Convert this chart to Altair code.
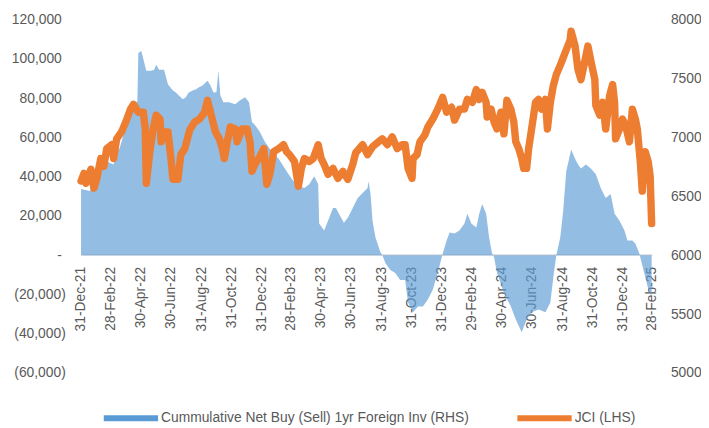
import altair as alt
import pandas as pd

BAR_NAME = "Cummulative Net Buy (Sell) 1yr Foreign Inv (RHS)"
LINE_NAME = "JCI (LHS)"

bar_dates = [
    "2021-12-31", "2022-01-18", "2022-02-01", "2022-02-11", "2022-02-21", "2022-03-07",
    "2022-03-13", "2022-03-19", "2022-03-27", "2022-04-02", "2022-04-08", "2022-04-16",
    "2022-04-22", "2022-04-24", "2022-04-26", "2022-05-02", "2022-05-08", "2022-05-12",
    "2022-05-22", "2022-05-28", "2022-06-01", "2022-06-07", "2022-06-17", "2022-06-25",
    "2022-07-05", "2022-07-11", "2022-07-17", "2022-07-25", "2022-07-31", "2022-08-06",
    "2022-08-14", "2022-08-20", "2022-08-26", "2022-09-03", "2022-09-13", "2022-09-19",
    "2022-09-25", "2022-10-01", "2022-10-05", "2022-10-09", "2022-10-15", "2022-10-27",
    "2022-11-08", "2022-11-18", "2022-11-28", "2022-12-06", "2022-12-12", "2022-12-18",
    "2022-12-28", "2023-01-07", "2023-01-21", "2023-02-04", "2023-02-14", "2023-02-24",
    "2023-03-06", "2023-03-16", "2023-03-28", "2023-04-07", "2023-04-17", "2023-04-25",
    "2023-04-27", "2023-05-07", "2023-05-15", "2023-05-25", "2023-05-31", "2023-06-06",
    "2023-06-16", "2023-06-24", "2023-07-04", "2023-07-14", "2023-07-24", "2023-08-03",
    "2023-08-05", "2023-08-09", "2023-08-13", "2023-08-19", "2023-08-29", "2023-09-02",
    "2023-09-08", "2023-09-18", "2023-09-28", "2023-10-08", "2023-10-18", "2023-10-24",
    "2023-11-03", "2023-11-13", "2023-11-23", "2023-12-03", "2023-12-13", "2023-12-23",
    "2023-12-31", "2024-01-10", "2024-01-16", "2024-01-26", "2024-02-05", "2024-02-15",
    "2024-02-21", "2024-02-29", "2024-03-10", "2024-03-16", "2024-03-22", "2024-03-30",
    "2024-04-05", "2024-04-11", "2024-04-15", "2024-04-21", "2024-05-05", "2024-05-19",
    "2024-05-29", "2024-06-10", "2024-06-20", "2024-06-30", "2024-07-14", "2024-07-28",
    "2024-08-07", "2024-08-13", "2024-08-19", "2024-08-27", "2024-09-02", "2024-09-08",
    "2024-09-16", "2024-09-18", "2024-09-26", "2024-10-02", "2024-10-08", "2024-10-18",
    "2024-10-28", "2024-11-07", "2024-11-17", "2024-11-27", "2024-12-07", "2024-12-15",
    "2024-12-25", "2025-01-04", "2025-01-10", "2025-01-20", "2025-01-26", "2025-02-03",
    "2025-02-13", "2025-02-23", "2025-02-28",
]
bar_values = [
    33700, 32700, 41200, 44200, 47700, 46200,
    52800, 54300, 61300, 64300, 71400, 74400,
    77900, 78400, 103000, 104000, 98000, 94000,
    94000, 94500, 97000, 94500, 94500, 86900,
    83900, 82900, 81400, 79400, 80400, 82900,
    83900, 84400, 85400, 86400, 88900, 86400,
    82900, 83000, 94000, 81400, 77900, 77900,
    76900, 78900, 80400, 77900, 67800, 66300,
    62800, 57800, 52800, 49200, 45200, 41200,
    37700, 35200, 34200, 36200, 40200, 36200,
    16100, 12600, 17600, 24100, 24100, 21100,
    16600, 19100, 24100, 29100, 31700, 34200,
    37700, 31200, 17600, 9000, 1500, 0,
    -4000, -7500, -9000, -12600, -12600, -24100,
    -29100, -26100, -26100, -22600, -17600, -9000,
    -1000, 7500, 11600, 11100, 12600, 16100,
    21100, 16100, 14100, 21100, 26100, 21100,
    9000, 1000, -1000, -9000, -19100, -26100,
    -32700, -39200, -32700, -29100, -27600, -29100,
    -24100, -11100, 0, 9000, 22600, 42700,
    51300, 53800, 49200, 46200, 44200, 46200,
    44200, 41200, 34200, 29100, 31200, 21100,
    17600, 12600, 7500, 7500, 6000, 1000,
    -9000, -19100, -20100,
]

line_dates = [
    "2021-12-31", "2022-01-06", "2022-01-10", "2022-01-20", "2022-01-26", "2022-02-01",
    "2022-02-09", "2022-02-15", "2022-02-21", "2022-03-03", "2022-03-07", "2022-03-13",
    "2022-03-23", "2022-04-02", "2022-04-10", "2022-04-16", "2022-04-26", "2022-05-06",
    "2022-05-10", "2022-05-12", "2022-05-20", "2022-05-26", "2022-06-01", "2022-06-09",
    "2022-06-11", "2022-06-19", "2022-06-25", "2022-07-01", "2022-07-05", "2022-07-15",
    "2022-07-21", "2022-07-29", "2022-08-08", "2022-08-18", "2022-08-28", "2022-09-07",
    "2022-09-13", "2022-09-19", "2022-09-29", "2022-10-07", "2022-10-13", "2022-10-17",
    "2022-10-23", "2022-10-29", "2022-11-08", "2022-11-12", "2022-11-22", "2022-12-02",
    "2022-12-08", "2022-12-12", "2022-12-18", "2022-12-28", "2023-01-05", "2023-01-11",
    "2023-01-17", "2023-01-25", "2023-02-04", "2023-02-14", "2023-02-20", "2023-02-26",
    "2023-03-08", "2023-03-16", "2023-03-22", "2023-03-28", "2023-04-07", "2023-04-15",
    "2023-04-25", "2023-05-01", "2023-05-07", "2023-05-15", "2023-05-25", "2023-06-04",
    "2023-06-14", "2023-06-24", "2023-07-04", "2023-07-10", "2023-07-24", "2023-08-03",
    "2023-08-13", "2023-08-25", "2023-09-02", "2023-09-12", "2023-09-22", "2023-10-02",
    "2023-10-12", "2023-10-18", "2023-10-24", "2023-11-01", "2023-11-03", "2023-11-11",
    "2023-11-17", "2023-11-27", "2023-12-03", "2023-12-13", "2023-12-23", "2024-01-02",
    "2024-01-10", "2024-01-20", "2024-01-26", "2024-02-05", "2024-02-15", "2024-02-21",
    "2024-03-02", "2024-03-10", "2024-03-16", "2024-03-22", "2024-03-30", "2024-04-01",
    "2024-04-09", "2024-04-15", "2024-04-21", "2024-04-29", "2024-05-05", "2024-05-11",
    "2024-05-19", "2024-05-25", "2024-05-29", "2024-06-04", "2024-06-10", "2024-06-14",
    "2024-06-20", "2024-06-24", "2024-06-30", "2024-07-08", "2024-07-14", "2024-07-20",
    "2024-07-28", "2024-08-01", "2024-08-07", "2024-08-13", "2024-08-19", "2024-08-29",
    "2024-09-08", "2024-09-16", "2024-09-18", "2024-09-26", "2024-10-02", "2024-10-08",
    "2024-10-16", "2024-10-22", "2024-10-28", "2024-11-05", "2024-11-07", "2024-11-15",
    "2024-11-21", "2024-11-27", "2024-12-05", "2024-12-11", "2024-12-15", "2024-12-17",
    "2024-12-25", "2024-12-31", "2025-01-06", "2025-01-14", "2025-01-20", "2025-01-26",
    "2025-01-30", "2025-02-05", "2025-02-09", "2025-02-15", "2025-02-21", "2025-02-25",
    "2025-02-28",
]
line_values = [
    6630, 6695, 6611, 6729, 6570, 6653,
    6821, 6754, 6905, 6938, 6821, 6988,
    7047, 7147, 7240, 7281, 7214, 7214,
    7072, 6611, 6905, 7072, 7189, 7156,
    6963, 7047, 7047, 6821, 6645, 6645,
    6854, 6905, 7064, 7131, 7156, 7214,
    7315, 7214, 7047, 6988, 6905, 6821,
    6963, 7089, 7072, 6963, 7072, 7072,
    6963, 6712, 6771, 6838, 6905, 6603,
    6687, 6879, 6905, 6938, 6879, 6854,
    6796, 6586, 6737, 6821, 6796, 6821,
    6938, 6821, 6771, 6687, 6737, 6653,
    6712, 6645, 6771, 6870, 6938, 6854,
    6921, 6963, 6988, 6938, 7005, 6905,
    6938, 6938, 6737, 6653, 6821, 6854,
    6963, 7022, 7089, 7156, 7240, 7340,
    7214, 7256, 7147, 7240, 7240, 7323,
    7298, 7407, 7323, 7382, 7298, 7173,
    7240, 7131, 7072, 7214, 7030, 7315,
    7240, 7131, 6963, 6905, 6821, 6737,
    6737, 6905, 7072, 7298, 7323, 7240,
    7323, 7072, 7298, 7441, 7533, 7633,
    7742, 7826, 7901, 7776, 7575, 7491,
    7650, 7776, 7650, 7491, 7273, 7189,
    7298, 7072, 7357, 7449, 7298, 6988,
    7072, 7156, 7106, 6963, 7240, 7156,
    7072, 6796, 6544, 6879, 6796, 6670,
    6268,
]

tick_dates = [
    "2021-12-31", "2022-02-28", "2022-04-30", "2022-06-30", "2022-08-31", "2022-10-31",
    "2022-12-31", "2023-02-28", "2023-04-30", "2023-06-30", "2023-08-31", "2023-10-31",
    "2023-12-31", "2024-02-29", "2024-04-30", "2024-06-30", "2024-08-31", "2024-10-31",
    "2024-12-31", "2025-02-28",
]
left_ticks = [-60000, -40000, -20000, 0, 20000, 40000, 60000, 80000, 100000, 120000]
right_ticks = [5000, 5500, 6000, 6500, 7000, 7500, 8000]

assert len(bar_dates) == len(bar_values)
assert len(line_dates) == len(line_values)

bars_df = pd.DataFrame({"date": bar_dates, "value": bar_values, "series": BAR_NAME})
line_df = pd.DataFrame({"date": line_dates, "value": line_values, "series": LINE_NAME})


def dt(s):
    y, m, d = (int(p) for p in s.split("-"))
    return alt.DateTime(year=y, month=m, date=d, utc=True)


BLUE = "#5B9BD5"
ORANGE = "#ED7D31"
TXT = "#595959"
FONT = "Liberation Sans"
FS = 14

color_scale = alt.Scale(domain=[BAR_NAME, LINE_NAME], range=[BLUE, ORANGE])
legend = alt.Legend(
    title=None, orient="none", legendX=23, legendY=376, direction="horizontal",
    symbolType="M-1,-0.11L1,-0.11L1,0.11L-1,0.11Z", symbolSize=3025,
    symbolOpacity=1, symbolStrokeWidth=0,
    labelFont=FONT, labelFontSize=FS, labelColor=TXT, labelOffset=3,
    columnPadding=49, labelLimit=400,
)

x_enc = alt.X(
    "date:T",
    scale=alt.Scale(type="utc", domain=[dt("2021-12-31"), dt("2025-02-28")], nice=False),
    axis=alt.Axis(
        title=None, values=[dt(s) for s in tick_dates],
        labelExpr="utcFormat(datum.value, '%d-%b-%y')",
        labelAngle=-90, labelFont=FONT, labelFontSize=FS, labelColor=TXT,
        labelPadding=12, ticks=False, tickSize=0, grid=False,
        domainColor="#D9D9D9", domainWidth=1.5, offset=-120,
        labelOverlap=False, labelFlush=False,
    ),
)

area = alt.Chart(bars_df).mark_area(fillOpacity=0.66, interpolate="linear").encode(
    x=x_enc,
    y=alt.Y(
        "value:Q",
        scale=alt.Scale(domain=[-60000, 120000], nice=False, zero=False),
        axis=alt.Axis(
            title=None, values=left_ticks, grid=False, domain=False, ticks=False,
            tickSize=0, labelFont=FONT, labelFontSize=FS, labelColor=TXT,
            labelPadding=alt.condition("datum.value < 0", alt.value(16), alt.value(20)),
            labelExpr=("datum.value == 0 ? '-' : (datum.value < 0 ? '(' + "
                       "format(-datum.value, ',') + ')' : format(datum.value, ','))"),
        ),
    ),
    color=alt.Color("series:N", scale=color_scale, legend=legend),
)

line = alt.Chart(line_df).mark_line(strokeWidth=7.5, strokeCap="round", strokeJoin="round").encode(
    x=x_enc,
    y=alt.Y(
        "value:Q",
        scale=alt.Scale(domain=[5000, 8000], nice=False, zero=False),
        axis=alt.Axis(
            title=None, orient="right", values=right_ticks, grid=False, domain=False,
            ticks=False, tickSize=0, labelPadding=19, labelFont=FONT, labelFontSize=FS,
            labelColor=TXT, format="d",
        ),
    ),
    color=alt.Color("series:N", scale=color_scale, legend=legend),
)

chart = alt.layer(area, line).resolve_scale(y="independent").properties(
    width=578, height=358,
    padding={"left": 74, "top": 9, "right": 50, "bottom": 60},
    autosize=alt.AutoSizeParams(type="none"),
).configure_view(stroke=None).configure_axis(grid=False)

chart.save("out.html", embed_options={"renderer": "svg", "actions": False})
